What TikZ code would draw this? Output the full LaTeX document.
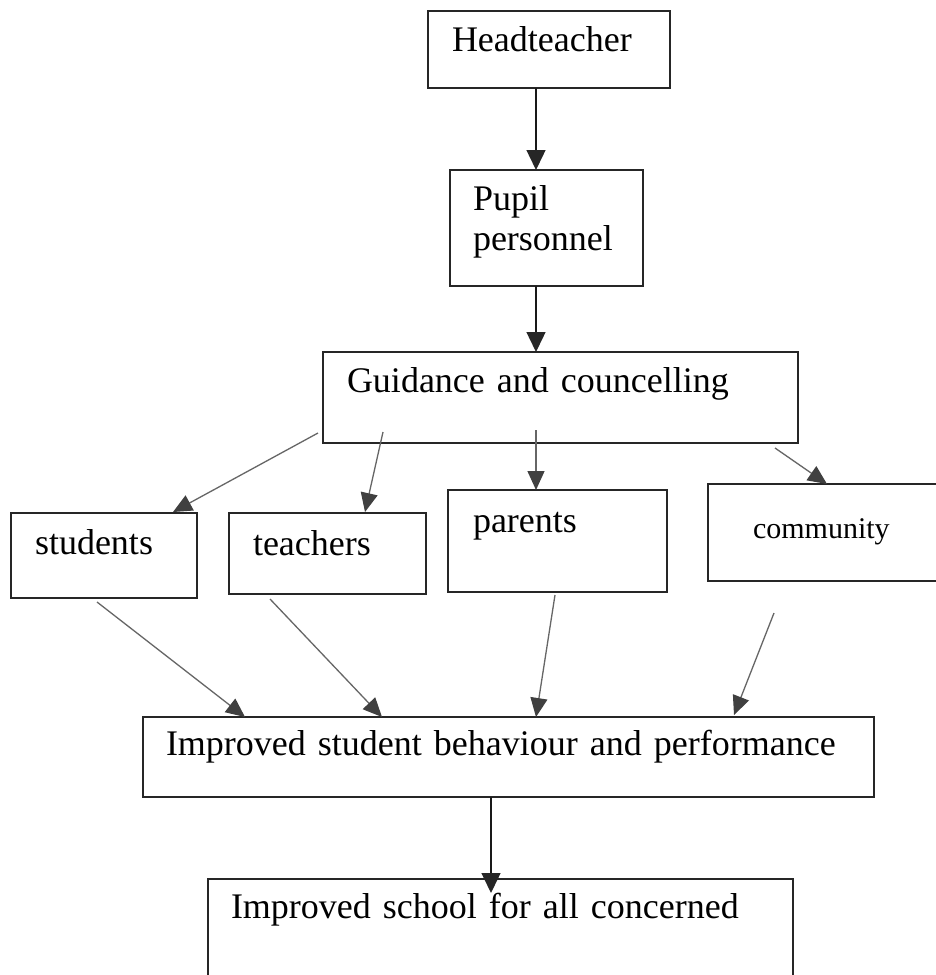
\documentclass[tikz,border=0pt]{standalone}
\usepackage{fontspec}
\setmainfont{Liberation Serif}
\usetikzlibrary{arrows.meta,calc}
\begin{document}
\begin{tikzpicture}[x=1pt,y=-1pt,
  box/.style={draw=black!85, line width=1.6pt, rectangle, anchor=north west, outer sep=0pt,
    align=left, inner ysep=0pt, font=\fontsize{36}{40}\selectfont, text=black},
  conn/.style={draw=black!60, line width=1.3pt, -{Triangle[length=19pt,width=17pt,color=black!75]}},
  vconn/.style={draw=black!90, line width=1.4pt, -{Triangle[length=20pt,width=19pt,color=black!85]}},
  ]
\useasboundingbox (0,0) rectangle (936,975);
\clip (0,0) rectangle (936,975);
\fill[white] (0,0) rectangle (936,975);

\node[box, inner xsep=24pt, text width=194pt, text height=40pt, text depth=37pt] (head) at (428,11) {Headteacher};
\node[box, inner xsep=23pt, text width=147pt, text height=40pt, text depth=76pt] (pupil) at (450,170) {Pupil\\personnel};
\node[box, inner xsep=24pt, text width=427pt, text height=40pt, text depth=51pt] (guid) at (323,352) {Guidance and councelling};
\node[box, inner xsep=24pt, text width=138pt, text height=41pt, text depth=44pt] (students) at (11,513) {students};
\node[box, inner xsep=24pt, text width=149pt, text height=42pt, text depth=39pt] (teachers) at (229,513) {teachers};
\node[box, inner xsep=25pt, text width=169pt, text height=42pt, text depth=60pt] (parents) at (448,490) {parents};
\node[box, inner xsep=45pt, text width=162pt, text height=54pt, text depth=43pt, font=\fontsize{30}{36}\selectfont] (community) at (708,484) {community};
\node[box, inner xsep=23pt, text width=685pt, text height=38pt, text depth=42pt] (improved) at (143,717) {Improved student behaviour and performance};
\node[box, inner xsep=23pt, text width=539pt, text height=39pt, text depth=90pt] (school) at (208,879) {Improved school for all concerned};

\draw[vconn] ($(head.south west)+(108,0)$) -- ($(pupil.north west)+(86,0)$);
\draw[vconn] ($(pupil.south west)+(86,0)$) -- ($(guid.north west)+(213,0)$);
\draw[conn] ($(guid.south west)+(-5,-10)$) -- ($(students.north east)+(-24,-1)$);
\draw[conn] ($(guid.south west)+(60,-11)$) -- ($(teachers.north west)+(136,-1)$);
\draw[conn] ($(guid.south west)+(213,-13)$) -- ($(parents.north west)+(88,0)$);
\draw[conn] ($(guid.south east)+(-23,5)$) -- ($(community.north west)+(119,0)$);
\draw[conn] ($(students.south west)+(86,4)$) -- ($(improved.north west)+(102,0)$);
\draw[conn] ($(teachers.south west)+(41,5)$) -- ($(improved.north west)+(239,0)$);
\draw[conn] ($(parents.south west)+(107,3)$) -- ($(improved.north west)+(393,0)$);
\draw[conn] ($(community.south west)+(66,32)$) -- ($(improved.north west)+(591,-2)$);
\draw[vconn] ($(improved.south west)+(348,0)$) -- ($(school.north west)+(283,14)$);
\end{tikzpicture}
\end{document}
